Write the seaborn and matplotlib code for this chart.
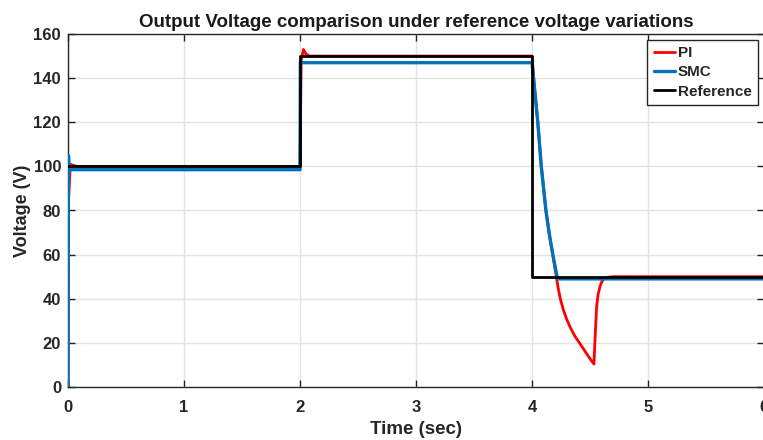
import numpy as np
import pandas as pd
import matplotlib
matplotlib.use("Agg")
import matplotlib.pyplot as plt
import seaborn as sns

# ---- data ----
pi_t = [0, 0.005, 0.02, 0.04, 0.08, 2.0, 2.01, 2.03, 2.05, 2.08, 4.0, 4.02, 4.05, 4.08,
        4.12, 4.15, 4.18, 4.213, 4.227, 4.245, 4.27, 4.30, 4.33, 4.37, 4.414, 4.45,
        4.485, 4.51, 4.534, 4.543, 4.557, 4.57, 4.586, 4.60, 4.615, 4.64, 4.70, 6.0]
pi_v = [0, 85, 101, 100.5, 100, 100, 148, 153, 151, 150, 150, 137, 120, 100,
        80, 69, 59.8, 48.8, 44.5, 39.8, 35.0, 30.6, 27.0, 23.0, 19.6, 16.8,
        14.0, 12.1, 10.4, 21.3, 36.4, 42, 45.5, 47.5, 48.8, 49.6, 50, 50]

smc_t = [0, 0.004, 0.01, 0.02, 2.0, 2.003, 4.0, 4.02, 4.05, 4.08, 4.12, 4.15, 4.18, 4.22, 6.0]
smc_v = [0, 105, 98.5, 98.5, 98.5, 147, 147, 136, 120, 100, 80, 69, 59.8, 49, 49]

ref_t = [0, 2, 2, 4, 4, 6]
ref_v = [100, 100, 150, 150, 50, 50]

series_names = ["PI", "SMC", "Reference"]
series_colors = ["#ff0000", "#0072bd", "#000000"]

x_ticks = [0, 1, 2, 3, 4, 5, 6]
y_ticks = [0, 20, 40, 60, 80, 100, 120, 140, 160]

title = "Output Voltage comparison under reference voltage variations"
xlabel = "Time (sec)"
ylabel = "Voltage (V)"

# ---- plotting ----
sns.set_theme(style="whitegrid")
plt.rcParams['font.family'] = ['Liberation Sans', 'DejaVu Sans']
plt.rcParams['font.weight'] = 'bold'

W, H = 763, 440
fig = plt.figure(figsize=(W / 100, H / 100), dpi=100)
ax = fig.add_axes([68 / W, (H - 387) / H, (764 - 68) / W, (387 - 34) / H])

frames = []
for name, t, v in zip(series_names, [pi_t, smc_t, ref_t], [pi_v, smc_v, ref_v]):
    frames.append(pd.DataFrame({"Time": t, "Voltage": v, "Series": name}))
df = pd.concat(frames, ignore_index=True)

widths = {"PI": 2.0, "SMC": 2.4, "Reference": 2.0}
for name, col in zip(series_names, series_colors):
    sub = df[df["Series"] == name]
    sns.lineplot(data=sub, x="Time", y="Voltage", ax=ax, color=col,
                 linewidth=widths[name], label=name, sort=False,
                 estimator=None, zorder=3)

ax.set_xlim(0, 6)
ax.set_ylim(0, 160)
ax.set_xticks(x_ticks)
ax.set_yticks(y_ticks)
ax.set_xticklabels([str(x) for x in x_ticks], fontsize=12, fontweight='bold')
ax.set_yticklabels([str(y) for y in y_ticks], fontsize=12, fontweight='bold')
ax.tick_params(axis='x', pad=9)
ax.tick_params(axis='y', pad=5)
ax.tick_params(direction='in', length=5, width=1, color='#222222',
               top=True, right=True, bottom=True, left=True, labelcolor='#262626')
ax.grid(True, color='#e3e3e3', linewidth=1)
for s in ax.spines.values():
    s.set_color('#262626')
    s.set_linewidth(1)
    s.set_visible(True)

ax.set_title(title, fontsize=13.5, fontweight='bold', pad=5, color='#1a1a1a')
ax.set_xlabel(xlabel, fontsize=13.5, fontweight='bold', labelpad=5, color='#262626')
ax.set_ylabel(ylabel, fontsize=13, fontweight='bold', labelpad=2, color='#262626')

leg = ax.legend(loc='upper right', bbox_to_anchor=(758 / W, 1 - 40 / H),
                bbox_transform=fig.transFigure, fancybox=False, framealpha=1,
                edgecolor='#262626', fontsize=11, handlelength=1.4,
                handletextpad=0.2, borderpad=0.4, labelspacing=0.35,
                borderaxespad=0)
leg.get_frame().set_linewidth(1)
for txt in leg.get_texts():
    txt.set_fontweight('bold')

fig.savefig("out.png", dpi=100, facecolor='white')
